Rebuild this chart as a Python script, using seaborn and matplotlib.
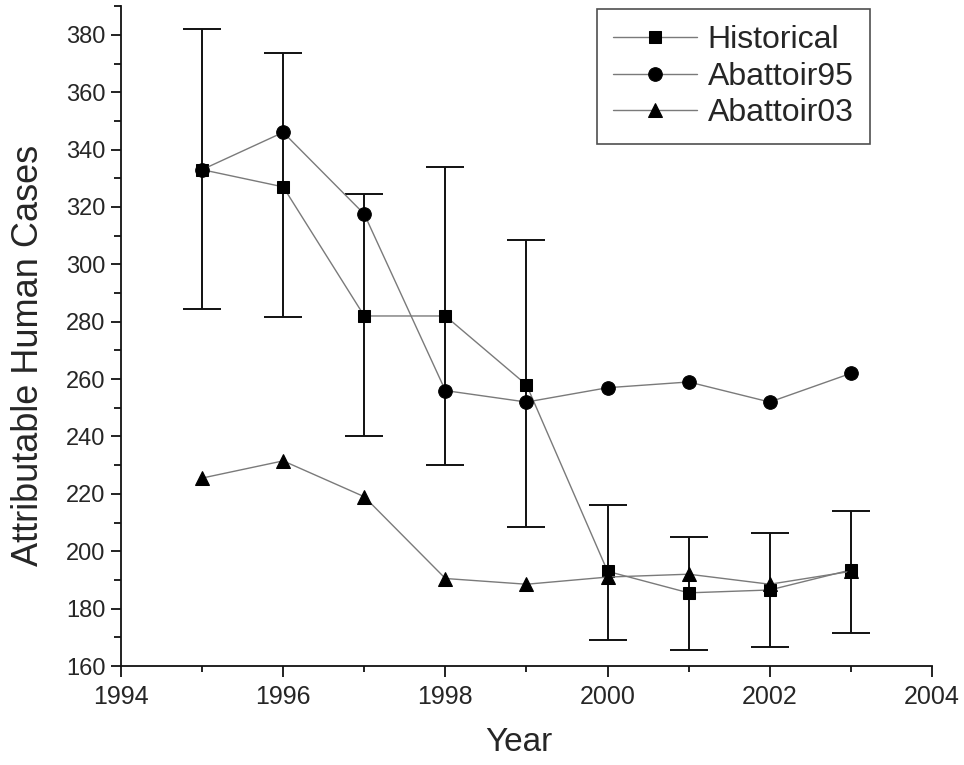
import numpy as np
import pandas as pd
import matplotlib
matplotlib.use('Agg')
import matplotlib.pyplot as plt
from matplotlib.ticker import MultipleLocator
import seaborn as sns

# data
years = [1995, 1996, 1997, 1998, 1999, 2000, 2001, 2002, 2003]
historical = [333, 327, 282, 282, 258, 193, 185.5, 186.5, 193.5]
hist_upper = [382, 373.5, 324.5, 334, 308.5, 216, 205, 206.5, 214]
hist_lower = [284.5, 281.5, 240, 230, 208.5, 169, 165.5, 166.5, 171.5]
abattoir95 = [333, 346, 317.5, 256, 252, 257, 259, 252, 262]
abattoir03 = [225.5, 231.5, 219, 190.5, 188.5, 191, 192, 188.5, 193]

df = pd.DataFrame({
    'Year': years,
    'Historical': historical,
    'Abattoir95': abattoir95,
    'Abattoir03': abattoir03,
})

sns.set_style('ticks')
plt.rcParams['font.family'] = ['Liberation Sans', 'DejaVu Sans']

fig = plt.figure(figsize=(9.64, 7.65), dpi=100)
ax = fig.add_axes([0.1255, 0.1294, 0.8413, 0.8626])

# error bars for the historical series
yerr = np.array([np.array(historical) - np.array(hist_lower),
                 np.array(hist_upper) - np.array(historical)])
ax.errorbar(df['Year'], df['Historical'], yerr=yerr, fmt='none',
            ecolor='#111111', elinewidth=1.4, capsize=14, capthick=1.4, zorder=2)

line_kw = dict(color='#7a7a7a', linewidth=1.0, markerfacecolor='black',
               markeredgecolor='black', zorder=3)
sns.lineplot(data=df, x='Year', y='Historical', marker='s', markersize=8.8,
             label='Historical', ax=ax, **line_kw)
sns.lineplot(data=df, x='Year', y='Abattoir95', marker='o', markersize=9.8,
             label='Abattoir95', ax=ax, **line_kw)
sns.lineplot(data=df, x='Year', y='Abattoir03', marker='^', markersize=10.5,
             label='Abattoir03', ax=ax, **line_kw)

ax.set_xlim(1994, 2004)
ax.set_ylim(160, 390)
ax.xaxis.set_major_locator(MultipleLocator(2))
ax.xaxis.set_minor_locator(MultipleLocator(1))
ax.yaxis.set_minor_locator(MultipleLocator(10))
ax.set_yticks(np.arange(160, 381, 20))

for side in ['top', 'right']:
    ax.spines[side].set_visible(False)
for side in ['left', 'bottom']:
    ax.spines[side].set_linewidth(1.3)
    ax.spines[side].set_color('#111111')

ax.tick_params(axis='x', which='major', length=8, width=1.3, labelsize=18, pad=6, color='#111111')
ax.tick_params(axis='x', which='minor', length=4.5, width=1.3, color='#111111')
ax.tick_params(axis='y', which='major', length=7, width=1.3, labelsize=17, pad=4, color='#111111')
ax.tick_params(axis='y', which='minor', length=5, width=1.3, color='#111111')

ax.set_xlabel('Year', fontsize=24)
ax.set_ylabel('Attributable Human Cases', fontsize=26)
ax.xaxis.set_label_coords(0.49, -0.092)
ax.yaxis.set_label_coords(-0.092, 0.47)

leg = ax.legend(loc='upper right', bbox_to_anchor=(0.923, 0.995), fontsize=23,
                frameon=True, fancybox=False, edgecolor='#222222',
                handlelength=2.6, handletextpad=0.35, labelspacing=0.2,
                borderpad=0.5, borderaxespad=0)
leg.get_frame().set_linewidth(1.2)

fig.savefig('out.png', dpi=100)
